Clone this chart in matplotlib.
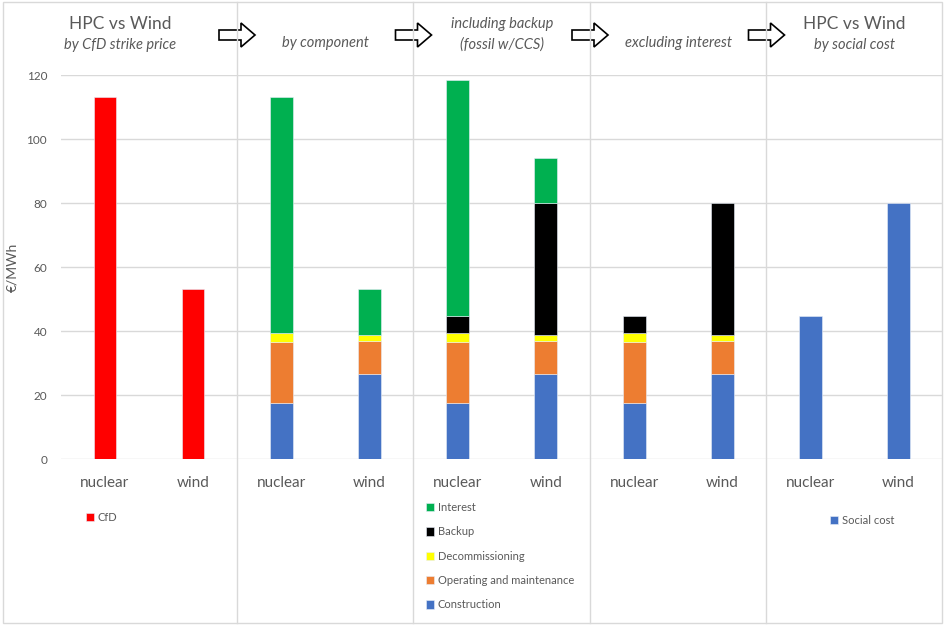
import matplotlib

matplotlib.use("Agg")
import matplotlib.pyplot as plt  # noqa: E402
from matplotlib.lines import Line2D  # noqa: E402
from matplotlib.patches import Polygon, Rectangle  # noqa: E402

plt.rcParams["font.family"] = ["Lato", "DejaVu Sans"]

W, H = 945, 627
INK = "#595959"
GRID = "#d9d9d9"

# ---- data (EUR/MWh) ----
techs = ["nuclear", "wind"]
cfd = [113.0, 53.0]
construction = [17.5, 26.6]
operating = [19.2, 10.2]
decommissioning = [2.7, 2.0]
backup = [5.3, 41.2]
interest = [73.6, 14.2]
social_cost = [44.7, 80.0]

SERIES = {
    "CfD": (cfd, "#ff0000"),
    "Construction": (construction, "#4472c4"),
    "Operating and maintenance": (operating, "#ed7d31"),
    "Decommissioning": (decommissioning, "#ffff00"),
    "Backup": (backup, "#000000"),
    "Interest": (interest, "#00b050"),
    "Social cost": (social_cost, "#4472c4"),
}

panels = [
    ("HPC vs Wind", "by CfD strike price", ["CfD"]),
    (None, "by component",
     ["Construction", "Operating and maintenance", "Decommissioning", "Interest"]),
    ("including backup", "(fossil w/CCS)",
     ["Construction", "Operating and maintenance", "Decommissioning", "Backup", "Interest"]),
    (None, "excluding interest",
     ["Construction", "Operating and maintenance", "Decommissioning", "Backup"]),
    ("HPC vs Wind", "by social cost", ["Social cost"]),
]
legend_on = [True, False, True, False, True]


def fx(x):
    return x / W


def fy(y):
    return 1 - y / H


fig = plt.figure(figsize=(W / 100, H / 100), dpi=100)

# chart-area boundaries (pixels) and plot-area boundaries
seps = [3, 237, 413.5, 590, 766.5, 942]
plot_left = [61, 237, 413.5, 590, 766.5]
y_top, y_bot = 75, 459

axes = []
for i, (t1, t2, names) in enumerate(panels):
    left = plot_left[i]
    right = seps[i + 1]
    ax = fig.add_axes([fx(left), fy(y_bot), fx(right - left), (y_bot - y_top) / H])
    xs = range(len(techs))
    bottom = [0.0] * len(techs)
    handles = []
    for name in names:
        vals, col = SERIES[name]
        b = ax.bar(xs, vals, 0.26, bottom=bottom, color=col, label=name,
                   edgecolor="#e8eef8", linewidth=0.4, zorder=3)
        handles.append(b)
        bottom = [a + v for a, v in zip(bottom, vals)]
    ax.set_xlim(-0.5, 1.5)
    ax.set_ylim(0, 120)
    ax.set_yticks(range(0, 121, 20))
    ax.grid(axis="y", color=GRID, lw=1.0, zorder=0)
    ax.set_xticks(list(xs))
    ax.set_xticklabels(techs, fontsize=11, color=INK)
    ax.tick_params(axis="x", length=0, pad=12)
    ax.tick_params(axis="y", length=0, labelsize=8.5, labelcolor=INK, pad=10)
    for s in ax.spines.values():
        s.set_visible(False)
    if i == 0:
        ax.set_ylabel("€/MWh", fontsize=10, color=INK)
        ax.yaxis.set_label_coords((18 - left) / (right - left), 0.5)
    else:
        ax.set_yticklabels([])
    axes.append(ax)

    # titles centred on the chart area
    cx = fx((seps[i] + seps[i + 1]) / 2)
    if t1 is not None:
        italic1 = t1 != "HPC vs Wind"
        fig.text(cx, fy(24), t1, ha="center", va="center", color=INK,
                 fontsize=10.5 if italic1 else 12.5,
                 style="italic" if italic1 else "normal")
        fig.text(cx, fy(45), t2, ha="center", va="center", color=INK,
                 fontsize=10.5, style="italic")
    else:
        fig.text(cx, fy(43), t2, ha="center", va="center", color=INK,
                 fontsize=10.5, style="italic")

    if legend_on[i]:
        h = handles[::-1]
        anchors = {0: (86, 512), 2: (426, 502), 4: (830, 515)}
        lx, ly = anchors[i]
        ax.legend(handles=h, loc="upper left",
                  bbox_to_anchor=(fx(lx), fy(ly)), bbox_transform=fig.transFigure,
                  frameon=False, fontsize=8, labelcolor=INK,
                  handlelength=0.75, handleheight=0.75, handletextpad=0.3,
                  labelspacing=1.2, borderpad=0, borderaxespad=0)

# separators and outer border
for x in seps[1:-1]:
    fig.add_artist(Line2D([fx(x), fx(x)], [fy(2), fy(623)], color=GRID, lw=1.0))
fig.add_artist(Rectangle((fx(3), fy(623)), fx(939), (621) / H, fill=False,
                         edgecolor=GRID, lw=1.0, transform=fig.transFigure))


# block arrows between titles
def block_arrow(xc, yc):
    pts = [(-18, -5), (4, -5), (4, -12), (18, 0), (4, 12), (4, 5), (-18, 5)]
    poly = Polygon([(fx(xc + dx), fy(yc + dy)) for dx, dy in pts], closed=True,
                   facecolor="white", edgecolor="black", lw=1.2,
                   transform=fig.transFigure)
    fig.add_artist(poly)


for x in seps[1:-1]:
    block_arrow(x, 35)

fig.savefig("out.png", dpi=100)
